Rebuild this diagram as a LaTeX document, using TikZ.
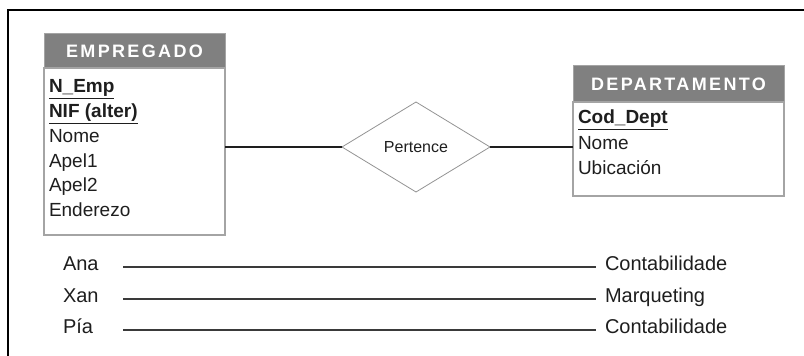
\documentclass[tikz,border=0pt]{standalone}
\usepackage{fontspec}
\setmainfont{Liberation Sans}
\usetikzlibrary{shapes.geometric,positioning}

\definecolor{hdrgray}{HTML}{808080}
\definecolor{boxgray}{HTML}{A4A4A4}
\definecolor{inkgray}{HTML}{1E1E1E}
\definecolor{rowgray}{HTML}{3A3A3A}
\newcommand{\pk}[1]{\textbf{\underline{#1}}}

\begin{document}
\begin{tikzpicture}[x=1pt, y=1pt, inner sep=0pt, outer sep=0pt,
	header/.style={draw=boxgray, fill=hdrgray, line width=1pt, text=white, font=\fontsize{18}{20}\selectfont\bfseries\addfontfeature{LetterSpace=13}},
	entbox/.style={draw=boxgray, line width=1.2pt},
	attr/.style={anchor=base west, text=inkgray, font=\fontsize{19}{22}\selectfont},
	rel/.style={draw=gray!85, line width=0.8pt, diamond, aspect=1.64, minimum width=148pt, minimum height=90pt, text=inkgray, font=\fontsize{16}{18}\selectfont},
	link/.style={draw=inkgray, line width=1.8pt},
	who/.style={anchor=west, text width=60pt, text=inkgray, font=\fontsize{20}{22}\selectfont, text height=1.5ex, text depth=.25ex},
	dept/.style={anchor=west, inner xsep=9pt, text=inkgray, font=\fontsize{20}{22}\selectfont, text height=1.5ex, text depth=.25ex},
	rowline/.style={draw=rowgray, line width=2.4pt},
	frame/.style={line width=2.6pt, line join=miter}]
	\useasboundingbox (0,0) rectangle (804,356);
	\draw[frame] (8,0) -- (8,346) -- (804,346);

	% entities
	\node[header, minimum width=181pt, minimum height=34pt] (empHdr) at (134.5,305) {EMPREGADO};
	\node[entbox, minimum width=181pt, minimum height=167pt, below=0pt of empHdr] (empBox) {};
	\foreach \attr [count=\i] in {\pk{N\_Emp}, \pk{NIF (alter)}, Nome, Apel1, Apel2, Enderezo}
		\node[attr] (empAttr\i) at (49,{288-24.8*\i}) {\attr};

	\node[header, minimum width=211pt, minimum height=36pt] (depHdr) at (678.5,272) {DEPARTAMENTO};
	\node[entbox, minimum width=211pt, minimum height=94pt, below=0pt of depHdr] (depBox) {};
	\foreach \attr [count=\i] in {\pk{Cod\_Dept}, Nome, Ubicación}
		\node[attr] (depAttr\i) at (578,{257.5-25.5*\i}) {\attr};

	% relationship
	\node[rel] (pert) at (416,209) {Pertence};
	\draw[link]
		(pert.west) -- (pert.west -| empBox.east)
		(pert.east) -- (pert.east -| depBox.west);

	% occurrences
	\foreach \name/\dname/\y [count=\i] in {Ana/Contabilidade/89, Xan/Marqueting/57, Pía/Contabilidade/26} {
		\node[who] (who\i) at (63,\y) {\name};
		\node[dept] (dept\i) at (596,\y) {\dname};
		\draw[rowline] (who\i.east) -- (dept\i.west);
	}
\end{tikzpicture}
\end{document}
